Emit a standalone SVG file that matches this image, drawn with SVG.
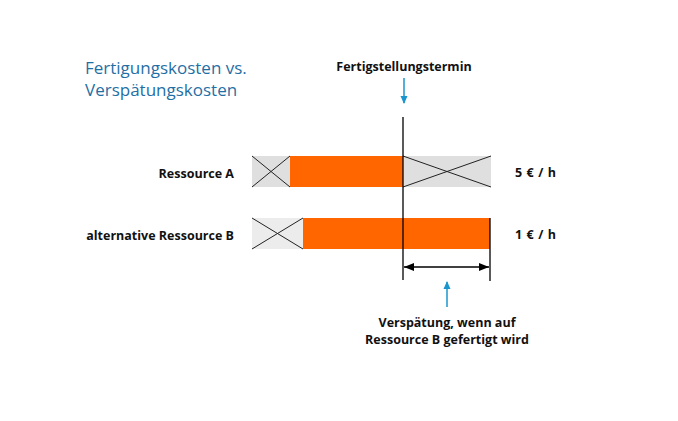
<svg xmlns="http://www.w3.org/2000/svg" width="678" height="421" viewBox="0 0 678 421">
<style>
.lbl{font-family:"Open Sans","Liberation Sans",sans-serif;font-weight:bold;font-size:12.5px;fill:#111}
.rate{letter-spacing:0.6px}
.title{font-family:"Open Sans","Liberation Sans",sans-serif;font-size:17px;fill:#1f6fa5}
.blk{stroke:#000;stroke-width:1.3;fill:none}
.x{stroke:#222;stroke-width:1;fill:none}
.blue{stroke:#1b96cc;stroke-width:1.5;fill:none}
</style>
<defs>
<marker id="bh" markerWidth="8" markerHeight="8" refX="7" refY="4" orient="auto" markerUnits="userSpaceOnUse"><path d="M0,0.5 L8,4 L0,7.5 Z" fill="#1b96cc"/></marker>
<marker id="kh" markerWidth="10" markerHeight="10" refX="10" refY="5" orient="auto-start-reverse" markerUnits="userSpaceOnUse"><path d="M0,1 L10,5 L0,9 Z" fill="#000"/></marker>
</defs>
<rect width="678" height="421" fill="#fff"/>
<g id="title">
<text class="title" x="85" y="74">Fertigungskosten vs.</text>
<text class="title" x="85" y="96">Verspätungskosten</text>
</g>
<g id="deadline-label"><text class="lbl" x="404" y="71" text-anchor="middle">Fertigstellungstermin</text></g>
<g id="resA">
<text class="lbl" x="234" y="178" text-anchor="end">Ressource A</text>
<rect x="252" y="156" width="38" height="31" fill="#dfdfdf"/>
<path class="x" d="M252,156 L290,187 M252,187 L290,156"/>
<rect x="290" y="156" width="113" height="31" fill="#ff6600"/>
<rect x="403" y="156" width="88" height="31" fill="#dfdfdf"/>
<path class="x" d="M403,156 L491,187 M403,187 L491,156"/>
<text class="lbl rate" x="515" y="177">5 € / h</text>
</g>
<g id="resB">
<text class="lbl" x="234" y="240" text-anchor="end">alternative Ressource B</text>
<rect x="252" y="218" width="51" height="31" fill="#ececec"/>
<path class="x" d="M252,218 L303,249 M252,249 L303,218"/>
<rect x="303" y="218" width="187" height="31" fill="#ff6600"/>
<text class="lbl rate" x="515" y="239">1 € / h</text>
</g>
<g id="connectors">
<line class="blue" x1="404" y1="78" x2="404" y2="103" marker-end="url(#bh)"/>
<line class="blk" x1="403" y1="117" x2="403" y2="280"/>
<line class="blk" x1="490" y1="218" x2="490" y2="281"/>
<line class="blk" x1="404" y1="267" x2="489" y2="267" marker-start="url(#kh)" marker-end="url(#kh)"/>
<line class="blue" x1="447" y1="307" x2="447" y2="282" marker-end="url(#bh)"/>
</g>
<g id="delay-label">
<text class="lbl" x="447" y="327" text-anchor="middle">Verspätung, wenn auf</text>
<text class="lbl" x="447" y="344" text-anchor="middle">Ressource B gefertigt wird</text>
</g>
</svg>
